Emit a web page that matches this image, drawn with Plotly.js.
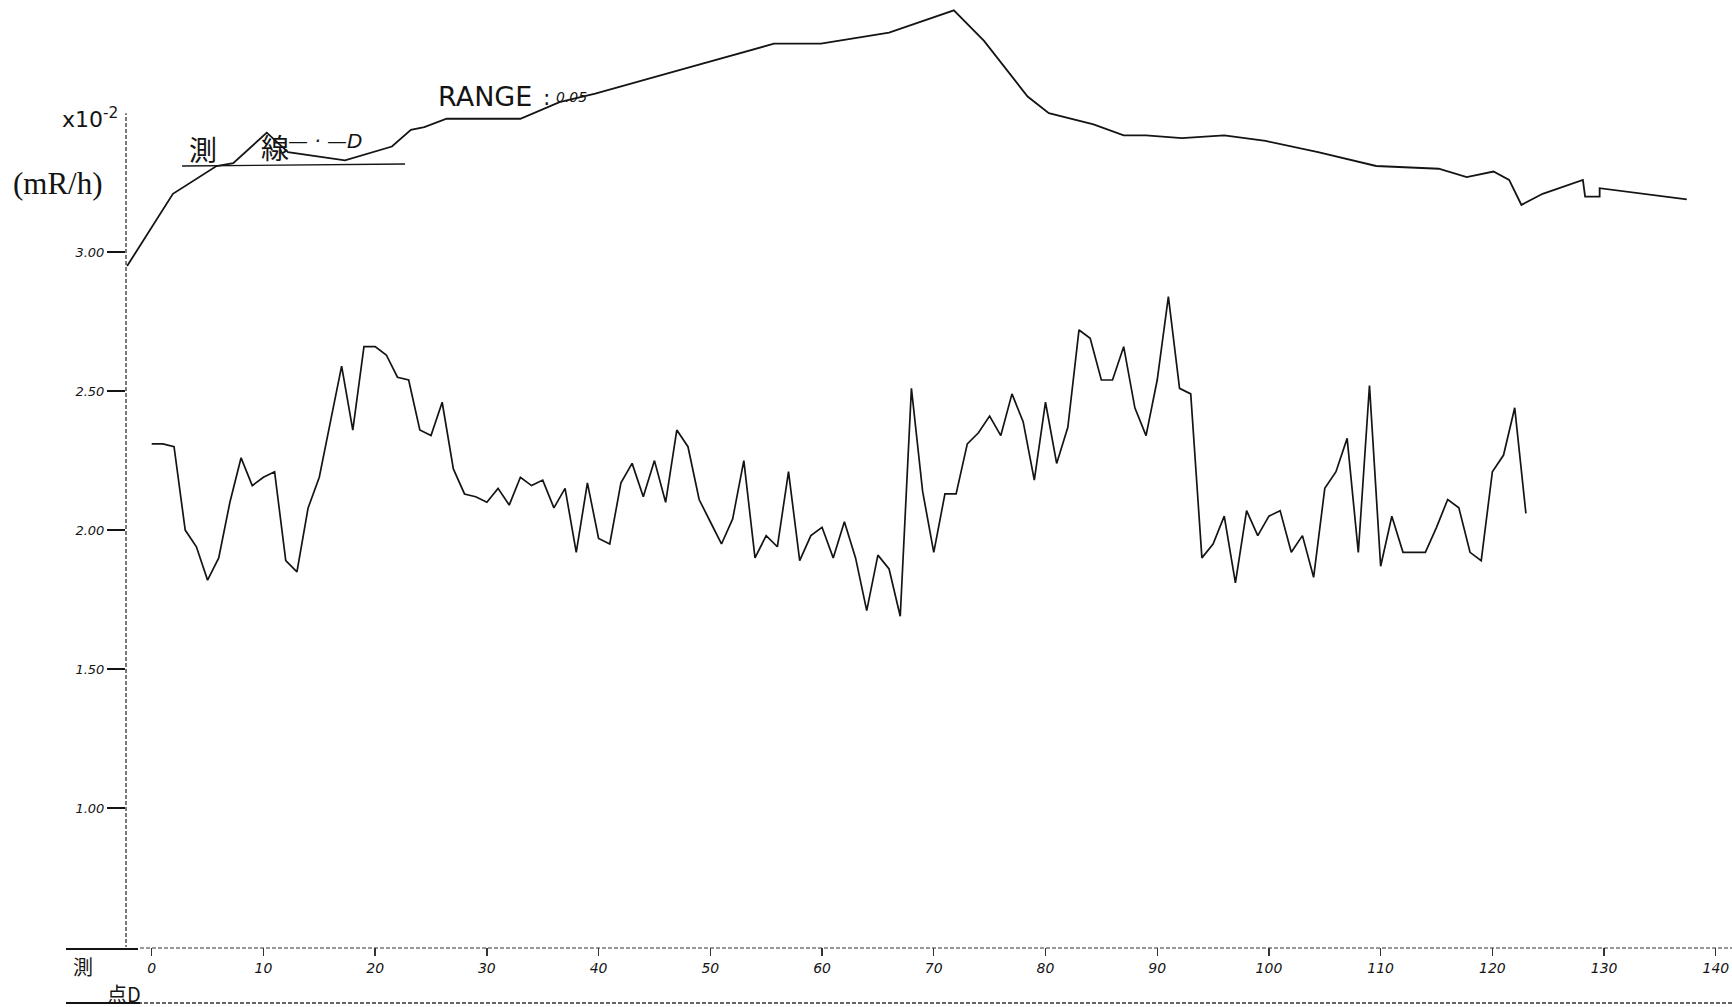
<!DOCTYPE html>
<html>
<head>
<meta charset="utf-8">
<script src="https://cdn.plot.ly/plotly-3.0.1.min.js"></script>
<style>
  html, body { margin: 0; padding: 0; background: #ffffff; }
  #chart { width: 1732px; height: 1007px; }
</style>
</head>
<body>
<div id="chart"></div>
<script>
// Survey line D: dose rate readings (x10^-2 mR/h) at stations 0..123
const doseRate = [
  2.31, 2.31, 2.30, 2.00, 1.94, 1.82, 1.90, 2.10, 2.26, 2.16,
  2.19, 2.21, 1.89, 1.85, 2.08, 2.19, 2.39, 2.59, 2.36, 2.66,
  2.66, 2.63, 2.55, 2.54, 2.36, 2.34, 2.46, 2.22, 2.13, 2.12,
  2.10, 2.15, 2.09, 2.19, 2.16, 2.18, 2.08, 2.15, 1.92, 2.17,
  1.97, 1.95, 2.17, 2.24, 2.12, 2.25, 2.10, 2.36, 2.30, 2.11,
  2.03, 1.95, 2.04, 2.25, 1.90, 1.98, 1.94, 2.21, 1.89, 1.98,
  2.01, 1.90, 2.03, 1.90, 1.71, 1.91, 1.86, 1.69, 2.51, 2.14,
  1.92, 2.13, 2.13, 2.31, 2.35, 2.41, 2.34, 2.49, 2.39, 2.18,
  2.46, 2.24, 2.37, 2.72, 2.69, 2.54, 2.54, 2.66, 2.44, 2.34,
  2.54, 2.84, 2.51, 2.49, 1.90, 1.95, 2.05, 1.81, 2.07, 1.98,
  2.05, 2.07, 1.92, 1.98, 1.83, 2.15, 2.21, 2.33, 1.92, 2.52,
  1.87, 2.05, 1.92, 1.92, 1.92, 2.01, 2.11, 2.08, 1.92, 1.89,
  2.21, 2.27, 2.44, 2.06
];
const stations = doseRate.map((_, i) => i);

// Ground profile along the line (drawn on the same scale, above the readings)
const profileX = [
  -2.2, 1.9, 5.8, 7.3, 10.3, 12.2, 17.3, 21.5, 23.2, 24.4,
  26.4, 33.0, 36.5, 39.7, 47.7, 55.7, 59.9, 66.0, 71.8, 74.5,
  78.4, 80.3, 84.3, 87.0, 89.0, 92.2, 96.0, 99.7, 104.4, 109.6,
  115.2, 117.7, 120.1, 121.5, 122.6, 124.5, 128.1, 128.3, 129.6, 129.6,
  137.4
];
const profileY = [
  2.95, 3.21, 3.31, 3.32, 3.43, 3.36, 3.33, 3.38, 3.44, 3.45,
  3.48, 3.48, 3.54, 3.57, 3.66, 3.75, 3.75, 3.79, 3.87, 3.76,
  3.56, 3.50, 3.46, 3.42, 3.42, 3.41, 3.42, 3.40, 3.36, 3.31,
  3.30, 3.27, 3.29, 3.26, 3.17, 3.21, 3.26, 3.20, 3.20, 3.23,
  3.19
];

// Axis ticks
const xTicks = [0, 10, 20, 30, 40, 50, 60, 70, 80, 90, 100, 110, 120, 130, 140];
const yTicks = [1.0, 1.5, 2.0, 2.5, 3.0];
const yTickText = ['1.00', '1.50', '2.00', '2.50', '3.00'];

// Page geometry for paper-referenced decoration
const W = 1732, H = 1007;
const M = { l: 126, r: 5, t: 2, b: 60 };
const plotW = W - M.l - M.r, plotH = H - M.t - M.b;
const px = x => (x - M.l) / plotW;
const py = y => (H - M.b - y) / plotH;

const ink = '#141414';
const hand = 'DejaVu Sans, sans-serif';
const cjk = 'Noto Sans CJK JP, sans-serif';

const traces = [
  {
    type: 'scatter', mode: 'lines',
    x: stations, y: doseRate,
    line: { color: ink, width: 1.7 },
    hoverinfo: 'x+y', showlegend: false
  },
  {
    type: 'scatter', mode: 'lines',
    x: profileX, y: profileY,
    line: { color: ink, width: 1.8 },
    hoverinfo: 'skip', showlegend: false, cliponaxis: false
  }
];

const axisDash = '4px,2px';
const shapes = [
  // vertical axis line
  { type: 'line', xref: 'paper', yref: 'y', x0: 0, x1: 0, y0: 0.45, y1: 3.5,
    line: { color: '#333', width: 1.3, dash: axisDash } },
  // horizontal axis line (station scale top)
  { type: 'line', xref: 'paper', yref: 'paper', x0: px(140), x1: 1.005, y0: py(948), y1: py(948),
    line: { color: '#333', width: 1.2, dash: axisDash } },
  { type: 'line', xref: 'paper', yref: 'paper', x0: px(66), x1: px(138), y0: py(949), y1: py(949),
    line: { color: ink, width: 2 } },
  // station scale bottom rule
  { type: 'line', xref: 'paper', yref: 'paper', x0: px(66), x1: 1.005, y0: py(1003), y1: py(1003),
    line: { color: '#333', width: 1.3, dash: axisDash } },
  { type: 'line', xref: 'paper', yref: 'paper', x0: px(66), x1: px(140), y0: py(1003), y1: py(1003),
    line: { color: ink, width: 2 } },
  // underline of the line label
  { type: 'line', xref: 'paper', yref: 'paper', x0: px(182), x1: px(405), y0: py(166), y1: py(164),
    line: { color: ink, width: 1.3 } }
];

// every note is centred on its point
const note = (text, x, y, font, xanchor) => ({
  text, x: px(x), y: py(y), xref: 'paper', yref: 'paper',
  xanchor: xanchor || 'center', yanchor: 'middle',
  showarrow: false, font
});

const annotations = [
  note('x10<sup>-2</sup>', 90, 118, { family: hand, size: 22, color: ink }),
  note('(mR/h)', 58, 183, { family: 'Liberation Serif, serif', size: 31, color: ink }),
  note('RANGE', 436, 96, { family: hand, size: 27, color: ink }, 'left'),
  note(':', 541, 98, { family: hand, size: 22, color: ink }, 'left'),
  note('0.05', 554, 97, { family: hand, size: 14, color: ink, style: 'italic' }, 'left'),
  note('測', 203, 149, { family: cjk, size: 28, color: ink }),
  note('線', 275, 147, { family: cjk, size: 28, color: ink }),
  note('— · —D', 286, 141, { family: hand, size: 20, color: ink, style: 'italic' }, 'left'),
  note('測', 83, 966, { family: cjk, size: 20, color: ink }),
  note('点D', 124, 994, { family: cjk, size: 20, color: ink })
];

const layout = {
  width: W, height: H,
  margin: M,
  paper_bgcolor: '#ffffff', plot_bgcolor: '#ffffff',
  showlegend: false,
  xaxis: {
    range: [-2.3, 141.0],
    tickvals: xTicks,
    ticks: 'outside', ticklen: 8, tickwidth: 1.3, tickcolor: '#333',
    tickfont: { family: hand, size: 14, color: ink, style: 'italic' },
    showgrid: false, zeroline: false, showline: false, fixedrange: true
  },
  yaxis: {
    range: [0.5, 3.9],
    tickvals: yTicks, ticktext: yTickText,
    ticks: 'outside', ticklen: 18, tickwidth: 1.5, tickcolor: ink,
    tickfont: { family: hand, size: 13, color: ink, style: 'italic' },
    showgrid: false, zeroline: false, showline: false, fixedrange: true
  },
  shapes: shapes,
  annotations: annotations
};

Plotly.newPlot('chart', traces, layout, { displayModeBar: false, staticPlot: true });
</script>
</body>
</html>
